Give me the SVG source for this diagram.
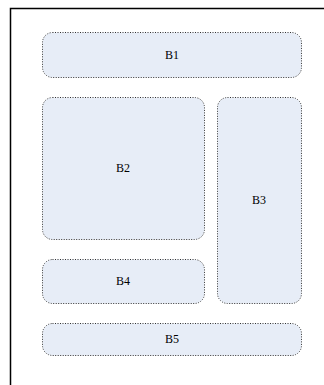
<svg xmlns="http://www.w3.org/2000/svg" width="324" height="385" viewBox="0 0 324 385">
  <style>
    .box { fill: #e7edf7; stroke: #333; stroke-width: 1; stroke-dasharray: 1 1.5; }
    .lbl { font-family: "Liberation Serif", serif; font-size: 12px; fill: #000; text-anchor: middle; dominant-baseline: central; }
  </style>
  <rect width="324" height="385" fill="#fff"/>
  <!-- outer frame: only left and top edges visible -->
  <path d="M10.5 385 V8.5 H324" fill="none" stroke="#000" stroke-width="1.5"/>
  <g id="B1"><rect class="box" x="42.5" y="32.5" width="259" height="45" rx="10"/><text class="lbl" x="172" y="55">B1</text></g>
  <g id="B2"><rect class="box" x="42.5" y="97.5" width="162" height="142" rx="10"/><text class="lbl" x="123" y="168">B2</text></g>
  <g id="B3"><rect class="box" x="217.5" y="97.5" width="84" height="206" rx="10"/><text class="lbl" x="259" y="200">B3</text></g>
  <g id="B4"><rect class="box" x="42.5" y="259.5" width="162" height="44" rx="10"/><text class="lbl" x="123" y="281">B4</text></g>
  <g id="B5"><rect class="box" x="42.5" y="323.5" width="259" height="32" rx="10"/><text class="lbl" x="172" y="339">B5</text></g>
  <g id="connectors"></g>
</svg>
